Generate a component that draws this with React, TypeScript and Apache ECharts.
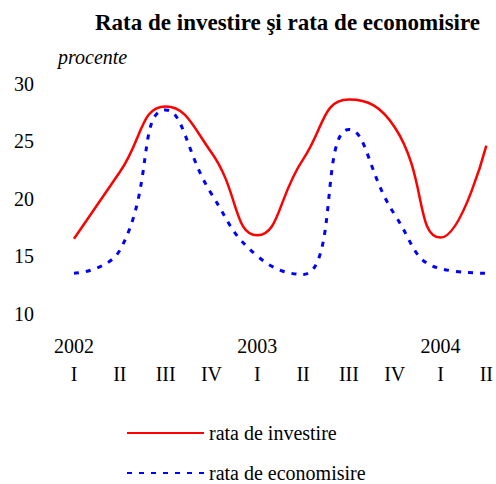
import React, { useEffect, useRef } from "react";
import * as echarts from "echarts";

const years = ["2002", "", "", "", "2003", "", "", "", "2004", ""];
const quarters = ["I", "II", "III", "IV", "I", "II", "III", "IV", "I", "II"];
const investire = [16.5, 22.3, 28.0, 24.0, 16.8, 23.4, 28.6, 26.2, 16.6, 24.6];
const economisire = [13.5, 15.5, 27.7, 20.4, 15.0, 13.4, 26.0, 18.6, 13.9, 13.5];
const yTicks = { min: 10, max: 30, interval: 5 };

const FONT = "'Liberation Serif', 'Times New Roman', serif";

export default function App() {
  const ref = useRef<HTMLDivElement>(null);
  useEffect(() => {
    if (!ref.current) return;
    const chart = echarts.init(ref.current, null, { renderer: "svg" });
    const categories = quarters.map((q, i) => `${years[i] || " "}\n${q}`);
    chart.setOption({
      animation: false,
      backgroundColor: "#ffffff",
      title: [
        {
          text: "Rata de investire şi rata de economisire",
          left: 95,
          top: 11,
          padding: 0,
          textStyle: { fontFamily: FONT, fontSize: 23, fontWeight: "bold", color: "#000" },
        },
        {
          text: "procente",
          left: 58,
          top: 47,
          padding: 0,
          textStyle: { fontFamily: FONT, fontSize: 20, fontStyle: "italic", fontWeight: "normal", color: "#000" },
        },
      ],
      legend: {
        orient: "vertical",
        left: 126,
        top: 423,
        height: 70,
        itemWidth: 77,
        itemHeight: 20,
        itemGap: 20,
        padding: 0,
        itemStyle: { opacity: 0 },
        textStyle: { fontFamily: FONT, fontSize: 20, lineHeight: 20, color: "#000" },
        data: ["rata de investire", "rata de economisire"],
      },
      grid: { left: 74, right: 9, top: 83.5, bottom: 170.5, containLabel: false },
      xAxis: {
        type: "category",
        boundaryGap: false,
        data: categories,
        axisLine: { show: false },
        axisTick: { show: false },
        splitLine: { show: false },
        axisLabel: {
          interval: 0,
          margin: 18,
          fontFamily: FONT,
          fontSize: 20,
          lineHeight: 28,
          color: "#000",
        },
      },
      yAxis: {
        type: "value",
        min: yTicks.min,
        max: yTicks.max,
        interval: yTicks.interval,
        axisLine: { show: false },
        axisTick: { show: false },
        splitLine: { show: false },
        axisLabel: { margin: 40, fontFamily: FONT, fontSize: 20, color: "#000" },
      },
      series: [
        {
          name: "rata de investire",
          type: "line",
          data: investire,
          smooth: 0.5,
          symbol: "none",
          lineStyle: { color: "#ff0000", width: 2.5 },
          itemStyle: { color: "#ff0000" },
        },
        {
          name: "rata de economisire",
          type: "line",
          data: economisire,
          smooth: 0.5,
          symbol: "none",
          lineStyle: { color: "#0000ff", width: 3, type: [5, 7] },
          itemStyle: { color: "#0000ff" },
        },
      ],
    });
    return () => chart.dispose();
  }, []);
  return <div ref={ref} style={{ width: 496, height: 484, position: "absolute", left: 0, top: 0 }} />;
}
